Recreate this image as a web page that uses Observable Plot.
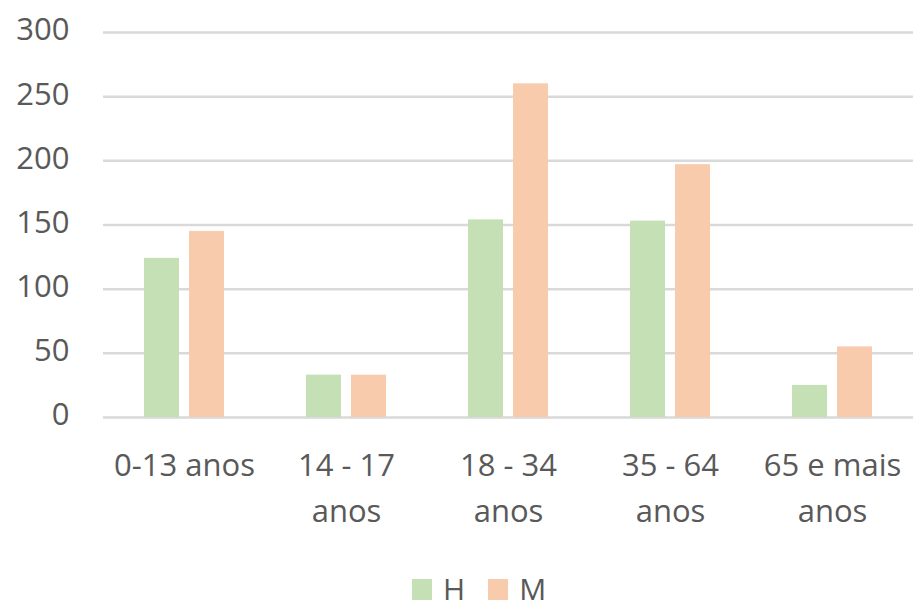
<!DOCTYPE html>
<html>
<head>
<meta charset="utf-8">
<script src="https://cdn.jsdelivr.net/npm/d3@7"></script>
<script src="https://cdn.jsdelivr.net/npm/@observablehq/plot@0.6"></script>
<style>
  html, body { margin: 0; padding: 0; background: #fff; }
  body { width: 914px; height: 610px; overflow: hidden; font-family: "Open Sans", sans-serif; color: #595959; }
  #chart svg { display: block; }
  #legend { display: flex; align-items: center; height: 42px; line-height: 42px; margin-left: 412px; font-size: 30px; }
  #legend .item { display: flex; align-items: center; margin-right: 23px; }
  #legend .sw { width: 20px; height: 21px; margin-right: 11px; }
</style>
</head>
<body>
<div id="chart"></div>
<div id="legend"></div>
<script>
const categories = ["0-13 anos", "14 - 17 anos", "18 - 34 anos", "35 - 64 anos", "65 e mais anos"];
const tickLabels = ["0-13 anos", "14 - 17\nanos", "18 - 34\nanos", "35 - 64\nanos", "65 e mais\nanos"];
const series = ["H", "M"];
const valuesH = [124, 33, 154, 153, 25];
const valuesM = [145, 33, 260, 197, 55];
const yTicks = [0, 50, 100, 150, 200, 250, 300];
const colors = ["#C5E0B4", "#F8CBAD"];

const data = categories.flatMap((c, i) => [
  {category: c, sex: "H", value: valuesH[i]},
  {category: c, sex: "M", value: valuesM[i]}
]);

const chart = Plot.plot({
  width: 914,
  height: 568,
  marginLeft: 102,
  marginRight: 0,
  marginTop: 32,
  marginBottom: 151,
  style: {fontFamily: "Open Sans", fontSize: "31px", color: "#595959", background: "#fff"},
  fx: {domain: categories, paddingInner: 0, paddingOuter: 0, label: null},
  x: {domain: series, paddingInner: 0.217, paddingOuter: 0.887, axis: null},
  y: {domain: [0, 300], label: null},
  color: {domain: series, range: colors},
  marks: [
    Plot.ruleY(yTicks, {stroke: "#d9d9d9", strokeWidth: 2.5}),
    Plot.barY(data, {fx: "category", x: "sex", y: "value", fill: "sex"}),
    Plot.axisY({ticks: yTicks, tickSize: 0, tickPadding: 34, fontSize: 31, dy: -2, label: null}),
    Plot.axisFx({anchor: "bottom", tickSize: 0, tickPadding: 25, fontSize: 31, lineHeight: 1.5,
      tickFormat: d => tickLabels[categories.indexOf(d)], label: null})
  ]
});
document.getElementById("chart").appendChild(chart);

const legend = d3.select("#legend");
series.forEach((s, i) => {
  const item = legend.append("div").attr("class", "item");
  item.append("div").attr("class", "sw").style("background", colors[i]);
  item.append("span").text(s);
});
</script>
</body>
</html>
